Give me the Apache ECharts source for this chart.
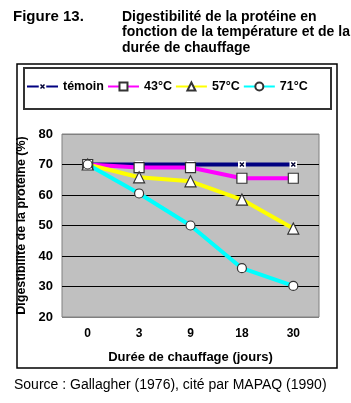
<!DOCTYPE html>
<html><head><meta charset="utf-8">
<script src="https://cdn.jsdelivr.net/npm/echarts@6/dist/echarts.min.js"></script>
<style>html,body{margin:0;padding:0;background:#fff}#c{width:351px;height:403px}</style>
</head><body><div id="c"></div>
<script>
const categories = ['0','3','9','18','30'];
const temoin = [70, 70, 70, 70, 70];
const t43 = [70, 69, 69, 65.5, 65.5];
const t57 = [70, 65.8, 64.5, 58.5, 49];
const t71 = [70, 60.5, 50, 36, 30.2];
const seriesNames = ['témoin','43°C','57°C','71°C'];
const yTicks = {min:20, max:80, interval:10};

const F = 'Liberation Sans, Arial, sans-serif';
const chart = echarts.init(document.getElementById('c'), null, {renderer:'canvas'});
const mk = {color:'#fff', borderColor:'#333', borderWidth:1.2};
const xSvg = 'image://data:image/svg+xml;utf8,' + encodeURIComponent('<svg xmlns="http://www.w3.org/2000/svg" width="10" height="10"><rect x="0" y="0" width="10" height="10" fill="#ffffff"/><path d="M2.5,2.5 L7.5,7.5 M7.5,2.5 L2.5,7.5" stroke="#000033" stroke-width="1.8"/></svg>');
chart.setOption({
  animation:false,
  graphic:[
    {type:'rect', shape:{x:17,y:64,width:320,height:304}, style:{fill:'none', stroke:'#000', lineWidth:1.5}, z:0},
    {type:'rect', shape:{x:24,y:68,width:307,height:41}, style:{fill:'none', stroke:'#333', lineWidth:2}, z:0},
    {type:'text', left:13, top:9, style:{text:'Figure 13.', font:'bold 15px '+F, fill:'#000'}},
    {type:'text', left:122, top:9, style:{text:'Digestibilité de la protéine en\nfonction de la température et de la\ndurée de chauffage', font:'bold 14px '+F, lineHeight:15.5, fill:'#000'}},
    {type:'text', left:14, top:378, style:{text:'Source : Gallagher (1976), cité par MAPAQ (1990)', font:'14px '+F, fill:'#000'}}
  ],
  legend:{
    left:21, top:75, itemWidth:31, itemHeight:10, itemGap:3,
    textStyle:{fontFamily:F, fontWeight:'bold', fontSize:12.5, color:'#000'},
    data:seriesNames
  },
  grid:{left:62, top:134, width:257, height:183, show:true, backgroundColor:'#C0C0C0', borderColor:'#808080', borderWidth:1},
  xAxis:{
    type:'category', data:categories, boundaryGap:true,
    axisLine:{show:false}, axisTick:{show:false},
    axisLabel:{fontFamily:F, fontWeight:'bold', fontSize:12, color:'#000', margin:11},
    name:'Durée de chauffage (jours)', nameLocation:'middle', nameGap:34,
    nameTextStyle:{fontFamily:F, fontWeight:'bold', fontSize:13, color:'#000'}
  },
  yAxis:{
    type:'value', min:yTicks.min, max:yTicks.max, interval:yTicks.interval,
    axisLine:{show:false}, axisTick:{show:false},
    axisLabel:{fontFamily:F, fontWeight:'bold', fontSize:13, color:'#000', margin:9},
    splitLine:{show:true, lineStyle:{color:['#808080','#000','#000','#000','#000','#000','#808080'], width:1.2}},
    name:'Digestibilité de la protéine (%)', nameLocation:'middle', nameGap:28,
    nameTextStyle:{fontFamily:F, fontWeight:'bold', fontSize:12.5, color:'#000'}
  },
  series:[
    {name:seriesNames[0], type:'line', data:temoin, symbol:xSvg, symbolSize:8, lineStyle:{color:'#000080', width:4}, itemStyle:{color:'#000080'}, color:'#000080'},
    {name:seriesNames[1], type:'line', data:t43, symbol:'rect', symbolSize:10, lineStyle:{color:'#FF00FF', width:4}, itemStyle:mk, color:'#FF00FF'},
    {name:seriesNames[2], type:'line', data:t57, symbol:'triangle', symbolSize:11, lineStyle:{color:'#FFFF00', width:4}, itemStyle:mk, color:'#FFFF00'},
    {name:seriesNames[3], type:'line', data:t71, symbol:'circle', symbolSize:9, lineStyle:{color:'#00FFFF', width:4}, itemStyle:mk, color:'#00FFFF'}
  ]
});
</script></body></html>
